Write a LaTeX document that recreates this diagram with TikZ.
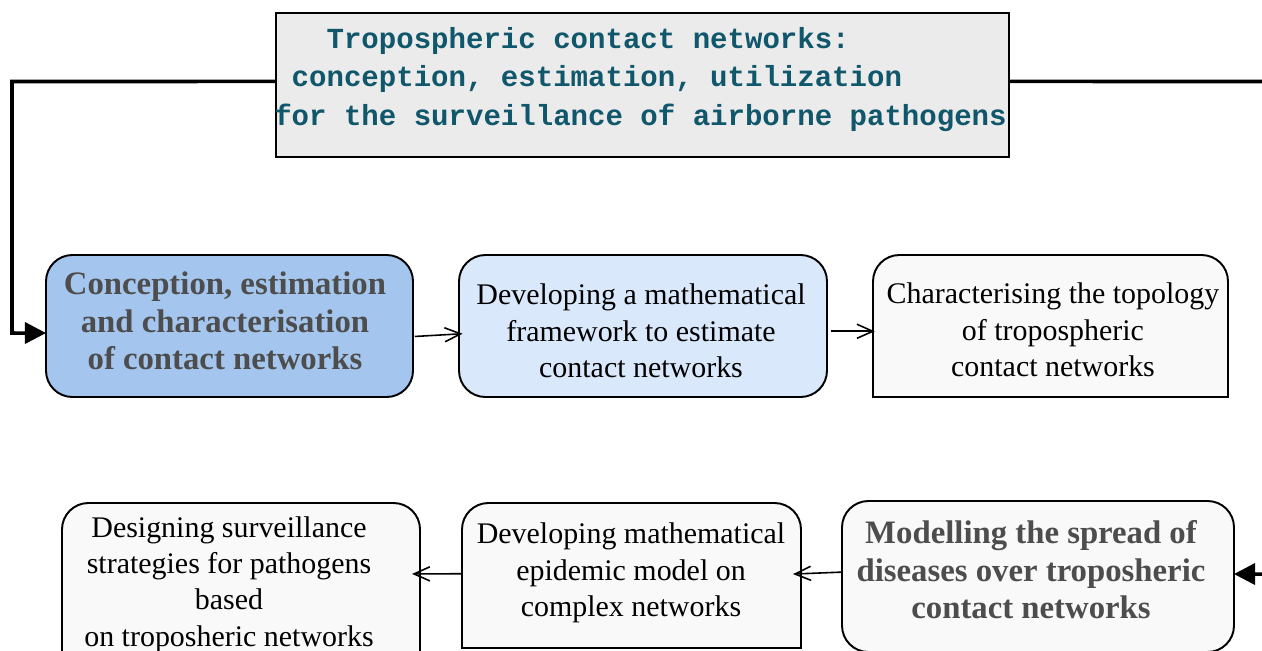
\documentclass[tikz,border=0pt]{standalone}
\usepackage{fontspec}
\setmainfont{Liberation Serif}
\newfontfamily\monofam{Liberation Mono}
\usetikzlibrary{arrows.meta}
\newcommand{\pxl}{0.5678pt}
\definecolor{titlefill}{HTML}{EBEBEB}
\definecolor{titletext}{HTML}{10576B}
\definecolor{bluedark}{HTML}{A4C6EE}
\definecolor{bluelight}{HTML}{DAE8FC}
\definecolor{greyfill}{HTML}{F9F9F9}
\definecolor{boldgrey}{HTML}{4D4D4D}
\tikzset{
  holder/.style={draw=none, fill=none, inner sep=0pt, outer sep=0pt},
  roundbox/.style={draw=black, line width=1.1pt, rounded corners=15pt, inner sep=0pt, outer sep=0pt},
  boxline/.style={draw=black, line width=1.1pt},
  normaltext/.style={inner sep=0pt, align=center, text=black, font={\fontsize{17pt}{20.6pt}\selectfont}},
  boldtext/.style={inner sep=0pt, align=center, text=boldgrey, font={\fontsize{18.6pt}{21.3pt}\selectfont\bfseries}},
  bigconn/.style={draw=black, line width=2pt, -{Triangle[length=12pt,width=12pt]}},
  thinconn/.style={draw=black, line width=0.9pt, -{Straight Barb[length=9pt,width=8pt]}},
}
\begin{document}
\begin{tikzpicture}[x=0.5678pt, y=-0.5678pt]
\useasboundingbox (0,0) rectangle (1262,650);
\fill[white] (0,0) rectangle (1262,650);

% title box
\node[draw=black, line width=1.1pt, fill=titlefill, inner sep=0pt,
      minimum width=733*\pxl, minimum height=144*\pxl] (title) at (642.5,85) {};
\node[inner sep=0pt, align=left, text=titletext,
      font={\monofam\bfseries\fontsize{16.5pt}{21.8pt}\selectfont}] (titletxt) at (640.5,79.5)
  {\phantom{TTT}Tropospheric contact networks:\\
   \phantom{T}conception, estimation, utilization\\
   for the surveillance of airborne pathogens};

% top row
\node[roundbox, fill=bluedark, minimum width=367*\pxl, minimum height=142*\pxl] (b1) at (229.5,326) {};
\node[roundbox, fill=bluelight, minimum width=368*\pxl, minimum height=142*\pxl] (b2) at (643,326) {};
\node[holder, minimum width=355*\pxl, minimum height=142*\pxl] (b3) at (1050.5,326) {};

% bottom row
\node[roundbox, fill=greyfill, minimum width=392*\pxl, minimum height=151*\pxl] (b4) at (1038,576.5) {};
\node[holder, minimum width=339*\pxl, minimum height=145*\pxl] (b5) at (631.5,575.5) {};
\node[holder, minimum width=358*\pxl, minimum height=177*\pxl] (b6) at (241,591.5) {};

\foreach \b in {b3,b5,b6}{
  \draw[boxline, fill=greyfill] (\b.south west) -- ([yshift=-15pt]\b.north west)
    arc[start angle=180, end angle=90, radius=15pt]
    -- ([xshift=-15pt]\b.north east)
    arc[start angle=90, end angle=0, radius=15pt]
    -- (\b.south east) -- cycle;
}

% texts
\node[boldtext] (t1) at (225,321) {Conception, estimation\\and characterisation\\of contact networks};
\node[normaltext] (t2) at (641,331) {Developing a mathematical\\framework to estimate\\contact networks};
\node[normaltext] (t3) at (1053,330) {Characterising the topology\\of tropospheric\\contact networks};
\node[boldtext] (t4) at (1031,570) {Modelling the spread of\\diseases over troposheric\\contact networks};
\node[normaltext] (t5) at (631,573) {Developing mathematical\\epidemic model on\\complex networks};
\node[normaltext] (t6) at (229,584.5) {Designing surveillance\\strategies for pathogens\\based\\on troposheric networks};

% big connectors
\coordinate (lc1) at (12,81.5);
\coordinate (lc2) at (12,333);
\coordinate (rc1) at (1290,81.5);
\coordinate (rc2) at (1290,574);
\draw[bigconn] ([yshift=2pt]title.west) -- (lc1) -- (lc2) -- ([yshift=-4pt]b1.west);
\draw[bigconn] ([yshift=2pt]title.east) -- (rc1) -- (rc2) -- ([yshift=1.4pt]b4.east);

% thin connectors
\draw[thinconn, shorten <=1pt, shorten >=-2pt] ([yshift=-6pt]b1.east) -- ([yshift=-4.5pt]b2.west);
\draw[thinconn, shorten <=2pt, shorten >=-1pt] ([yshift=-3pt]b2.east) -- ([yshift=-3pt]b3.west);
\draw[thinconn, shorten >=-4.5pt] ([yshift=2.5pt]b4.west) -- ([yshift=1pt]b5.east);
\draw[thinconn, shorten >=-4.5pt] ([yshift=1pt]b5.west) -- ([yshift=10pt]b6.east);
\end{tikzpicture}
\end{document}
